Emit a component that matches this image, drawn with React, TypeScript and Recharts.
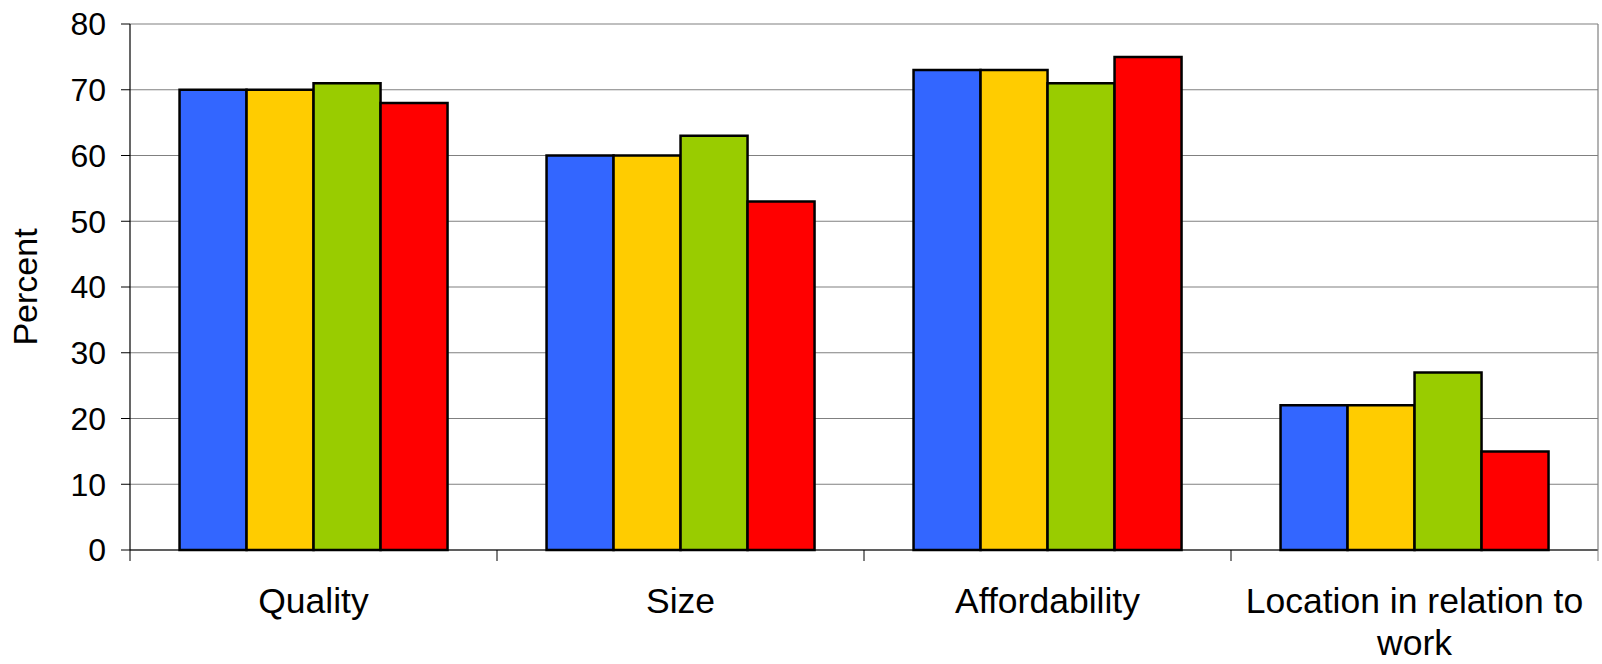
import { BarChart, Bar, XAxis, YAxis, CartesianGrid } from "recharts";

const categories = ["Quality", "Size", "Affordability", "Location in relation to work"];
const series1 = [70, 60, 73, 22];
const series2 = [70, 60, 73, 22];
const series3 = [71, 63, 71, 27];
const series4 = [68, 53, 75, 15];
const yTicks = [0, 10, 20, 30, 40, 50, 60, 70, 80];

const labelLines: Record<string, string[]> = {
  "Location in relation to work": ["Location in relation to", "work"],
};

const data = categories.map((c, i) => ({
  name: c,
  s1: series1[i],
  s2: series2[i],
  s3: series3[i],
  s4: series4[i],
}));

const FONT = "'Liberation Sans', Arial, sans-serif";

function CategoryTick(props: any) {
  const { x, y, payload, index, visibleTicksCount } = props;
  const half = payload && payload.offset ? payload.offset : 183.5;
  const lines = labelLines[payload.value] || [payload.value];
  const last = index === (visibleTicksCount ?? categories.length) - 1;
  return (
    <g>
      <line x1={x - half} y1={y} x2={x - half} y2={y + 11} stroke="#000" strokeWidth={1} />
      {last && <line x1={x + half} y1={y} x2={x + half} y2={y + 11} stroke="#808080" strokeWidth={1} />}
      <text x={x} y={y + 63} textAnchor="middle" fontSize={35.5} fill="#000" fontFamily={FONT}>
        {lines.map((l: string, i: number) => (
          <tspan key={i} x={x} dy={i === 0 ? 0 : 42}>
            {l}
          </tspan>
        ))}
      </text>
    </g>
  );
}

export default function App() {
  return (
    <div style={{ position: "absolute", left: 0, top: 0, background: "#fff" }}>
      <BarChart
        width={1602}
        height={664}
        data={data}
        margin={{ top: 24, right: 0, left: 0, bottom: 0 }}
        barGap={0}
        barCategoryGap="13.5%"
      >
        <CartesianGrid vertical={false} stroke="#808080" strokeWidth={1.2} />
        <XAxis
          dataKey="name"
          height={114}
          tickLine={false}
          tickSize={0}
          tickMargin={0}
          axisLine={{ stroke: "#000", strokeWidth: 1.2 }}
          interval={0}
          tick={<CategoryTick />}
        />
        <YAxis
          width={130}
          domain={[0, 80]}
          ticks={yTicks}
          tickSize={9}
          tickMargin={15}
          axisLine={{ stroke: "#000", strokeWidth: 1.2 }}
          tickLine={{ stroke: "#000" }}
          tick={{ fontSize: 32, fill: "#000", fontFamily: FONT }}
          label={{
            value: "Percent",
            angle: -90,
            position: "insideLeft",
            dx: 20,
            style: { fontSize: 34, fill: "#000", fontFamily: FONT, textAnchor: "middle" },
          }}
        />
        <YAxis
          yAxisId="r"
          orientation="right"
          width={4}
          tick={false}
          tickLine={false}
          axisLine={{ stroke: "#808080", strokeWidth: 1.2 }}
        />
        <Bar dataKey="s1" name="Series 1" fill="#3366FF" stroke="#000" strokeWidth={2.5} isAnimationActive={false} />
        <Bar dataKey="s2" name="Series 2" fill="#FFCC00" stroke="#000" strokeWidth={2.5} isAnimationActive={false} />
        <Bar dataKey="s3" name="Series 3" fill="#99CC00" stroke="#000" strokeWidth={2.5} isAnimationActive={false} />
        <Bar dataKey="s4" name="Series 4" fill="#FF0000" stroke="#000" strokeWidth={2.5} isAnimationActive={false} />
      </BarChart>
    </div>
  );
}
